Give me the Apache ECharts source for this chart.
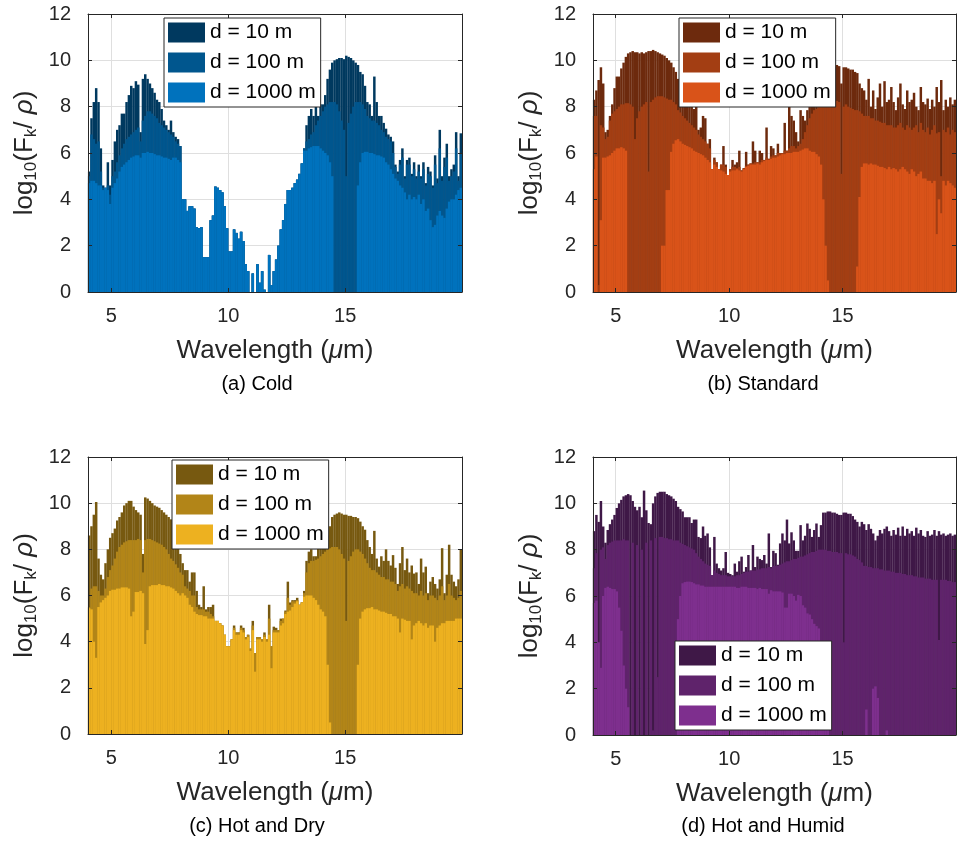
<!DOCTYPE html>
<html>
<head>
<meta charset="utf-8">
<title>Spectral flux by atmosphere</title>
<script src="https://cdn.jsdelivr.net/npm/echarts@6/dist/echarts.min.js"></script>
<style>html,body{margin:0;padding:0;background:#fff;}</style>
</head>
<body>
<div id="main" style="width:959px;height:844px;"></div>
<script type="text/javascript">
// bin centres, 0.1 um bins from 4 to 20 um
var wavelength = [];
for (var k = 0; k < 160; k++) wavelength.push(+(4.05 + 0.1 * k).toFixed(2));

var legendNames = ['d = 10 m', 'd = 100 m', 'd = 1000 m'];
var xTickLabels = [5, 10, 15];
var captions = ['(a) Cold', '(b) Standard', '(c) Hot and Dry', '(d) Hot and Humid'];

// log10(Fk / rho), one value per bin
var cold10 = [
  5.2, 7.5, 8.2, 8.8, 8.2, 6.2, 4.6, 4.5, 5.6, 4.6,
  5.7, 6.5, 7.0, 7.2, 7.7, 7.7, 8.2, 8.5, 8.9, 8.8,
  9.1, 8.95, 6.9, 9.2, 9.4, 9.2, 9.0, 8.8, 8.6, 8.3,
  8.2, 7.9, 7.4, 7.2, 7.0, 7.4, 6.9, 6.7, 6.6, 6.3,
  4.0, 4.0, 3.5, 3.7, 3.7, 3.6, 2.8, 2.75, 2.8, 1.5,
  1.5, 1.5, 3.1, 3.3, 4.55, 4.5, 4.4, 4.3, 3.7, 2.75,
  1.75, 1.75, 2.7, 2.55, 2.3, 2.6, 2.2, 1.2, 0.9, 0,
  0.8, 0, 1.2, 0.4, 0.9, 0.1, 0, 1.6, 0.3, 0.9,
  1.4, 2.0, 2.7, 3.1, 3.8, 4.4, 4.4, 4.5, 4.7, 4.85,
  5.1, 5.55, 6.2, 7.2, 7.6, 7.9, 7.6, 8.0, 7.6, 8.1,
  8.1, 8.5, 9.2, 9.6, 9.9, 10.0, 10.05, 10.1, 10.1, 10.05,
  10.2, 10.15, 10.1, 10.0, 9.9, 9.8, 9.5, 9.4, 8.9, 8.2,
  8.1, 7.6, 9.3, 8.2, 7.6, 7.6, 7.3, 7.05, 6.8, 6.7,
  6.5, 5.5, 5.2, 5.7, 6.2, 5.0, 5.7, 5.8, 5.1, 5.6,
  5.0, 5.5, 5.0, 5.6, 4.7, 5.4, 5.2, 4.6, 5.9, 4.9,
  7.0, 5.0, 5.8, 6.4, 5.0, 5.3, 5.5, 6.9, 5.0, 6.85
];
var cold100 = [
  5.0, 6.8, 6.6, 6.4, 6.5, 5.2, 4.5, 4.5, 4.6, 4.2,
  5.0, 5.2, 5.6, 5.9, 6.2, 6.4, 6.6, 6.7, 6.8, 6.9,
  7.0, 7.1, 6.5, 7.4, 7.6, 7.8, 7.8, 7.7, 7.6, 7.5,
  7.3, 7.2, 7.1, 7.0, 6.9, 6.8, 6.7, 6.5, 6.4, 6.3,
  4.0, 4.0, 3.5, 3.7, 3.7, 3.6, 2.8, 2.75, 2.8, 1.5,
  1.5, 1.5, 3.1, 3.3, 4.55, 4.5, 4.4, 4.3, 3.7, 2.75,
  1.75, 1.75, 2.7, 2.55, 2.3, 2.6, 2.2, 1.2, 0.9, 0,
  0.8, 0, 1.2, 0.4, 0.9, 0.1, 0, 1.6, 0.3, 0.9,
  1.4, 2.0, 2.7, 3.1, 3.8, 4.4, 4.4, 4.5, 4.7, 4.85,
  5.1, 5.55, 6.2, 6.5, 6.6, 6.8, 6.9, 7.2, 7.4, 7.6,
  7.8, 8.0, 8.1, 8.2, 8.2, 8.2, 8.1, 7.8, 7.4, 7.0,
  5.0, 7.3, 7.7, 8.0, 8.2, 8.2, 8.2, 8.1, 7.9, 7.6,
  7.5, 7.4, 7.4, 7.3, 7.2, 7.0, 6.9, 6.7, 6.6, 6.5,
  6.0, 5.4, 5.1, 5.5, 5.8, 4.9, 5.5, 5.5, 5.0, 5.3,
  4.9, 5.2, 4.9, 5.3, 4.6, 5.1, 5.0, 4.5, 5.5, 4.7,
  6.2, 4.8, 5.4, 5.8, 4.8, 5.0, 5.2, 6.2, 4.8, 6.0
];
var cold1000 = [
  4.7, 4.8, 4.8, 4.7, 4.6, 4.6, 4.4, 4.5, 4.4, 3.8,
  4.5, 4.7, 4.9, 5.2, 5.4, 5.5, 5.6, 5.7, 5.8, 5.85,
  5.9, 5.9, 5.8, 6.0, 6.0, 6.05, 6.0, 6.0, 5.95, 5.9,
  5.9, 5.85, 5.8, 5.8, 5.75, 5.7, 5.8, 5.8, 5.7, 5.6,
  4.0, 4.0, 3.5, 3.7, 3.7, 3.6, 2.8, 2.75, 2.8, 1.5,
  1.5, 1.5, 3.1, 3.3, 4.55, 4.5, 4.4, 4.3, 3.7, 2.75,
  1.75, 1.75, 2.7, 2.55, 2.3, 2.6, 2.2, 1.2, 0.9, 0,
  0.8, 0, 1.2, 0.4, 0.9, 0.1, 0, 1.6, 0.3, 0.9,
  1.4, 2.0, 2.7, 3.1, 3.8, 4.4, 4.4, 4.5, 4.7, 4.85,
  5.1, 5.55, 6.1, 6.1, 6.2, 6.25, 6.3, 6.3, 6.3, 6.2,
  6.1, 6.0, 5.9, 5.6, 5.0, 0, 0, 0, 0, 0,
  0, 0, 0, 0, 0, 4.6, 5.6, 6.0, 6.05, 6.05,
  6.0, 6.0, 5.95, 5.9, 5.9, 5.85, 5.8, 5.6, 5.5, 5.3,
  5.1, 4.9, 4.8, 4.6, 4.5, 4.3, 4.0, 4.2, 4.0, 4.1,
  4.0, 4.2, 3.8, 4.0, 3.5, 3.6, 3.1, 2.8, 2.9, 3.3,
  3.5, 3.3, 3.2, 3.6, 3.9, 4.0, 4.0, 4.2, 4.4, 4.5
];

var std10 = [
  8.3, 8.7, 9.15, 9.7, 9.0, 6.9, 7.0, 7.6, 8.1, 8.8,
  9.3, 9.3, 9.65, 9.9, 10.15, 10.3, 10.35, 10.4, 10.35, 10.35,
  10.3, 10.35, 10.3, 10.35, 10.4, 10.4, 10.45, 10.4, 10.35, 10.3,
  10.25, 10.2, 10.1, 10.0, 9.9, 9.7, 9.5, 9.2, 8.9, 8.6,
  8.2, 8.3, 8.0, 8.1, 7.9, 8.0, 7.0, 7.1, 7.6, 7.5,
  6.4, 6.6, 5.3, 5.8, 5.6, 5.3, 5.5, 6.3, 5.5, 5.05,
  5.3, 5.7, 5.5, 5.6, 6.1, 5.25, 5.35, 6.05, 5.5, 5.55,
  6.5, 6.1, 5.6, 6.1, 6.0, 5.7, 7.1, 5.75, 6.3, 6.2,
  5.9, 6.4, 6.0, 6.0, 7.3, 6.1, 8.0, 7.6, 7.4, 6.9,
  6.5, 7.85, 7.6, 7.4, 7.85, 8.0, 8.3, 8.6, 8.9, 9.2,
  9.4, 9.6, 9.7, 9.8, 9.8, 9.8, 9.75, 9.8, 9.75, 9.0,
  9.7, 9.7, 9.65, 9.6, 9.6, 9.5, 9.45, 9.0, 8.8, 8.7,
  8.3, 9.2, 8.0, 8.7, 7.9, 8.4, 9.0, 8.0, 9.1, 8.2,
  8.3, 8.85, 8.2, 7.85, 8.4, 9.0, 8.1, 7.9, 8.7, 8.2,
  8.3, 8.6, 8.0, 7.85, 8.85, 8.2, 8.1, 8.35, 7.9, 8.3,
  8.0, 8.85, 8.2, 9.15, 7.85, 8.3, 8.0, 8.4, 8.1, 8.3
];
var std100 = [
  7.6, 7.6, 0.3, 7.2, 7.1, 6.6, 6.7, 7.4, 7.7, 7.8,
  7.9, 8.0, 8.1, 8.1, 8.15, 8.15, 8.1, 8.0, 6.6, 7.5,
  7.8, 8.0, 8.1, 8.2, 5.2, 8.2, 8.3, 8.4, 8.45, 8.45,
  8.45, 8.4, 8.35, 8.3, 8.3, 8.2, 8.1, 7.85, 7.75, 7.6,
  7.5, 7.4, 7.3, 7.2, 7.1, 7.0, 6.8, 6.7, 6.6, 6.5,
  6.4, 6.2, 5.3, 5.7, 5.6, 5.3, 5.5, 5.5, 5.4, 5.05,
  5.3, 5.4, 5.4, 5.35, 5.4, 5.25, 5.35, 5.45, 5.5, 5.55,
  5.55, 5.6, 5.6, 5.6, 5.7, 5.7, 5.8, 5.75, 5.85, 5.9,
  5.9, 6.0, 6.0, 6.0, 6.1, 6.1, 6.2, 6.3, 6.3, 6.2,
  6.3, 6.4, 6.6, 6.9, 7.2, 7.5, 7.7, 7.85, 7.9, 8.0,
  8.1, 8.2, 8.3, 8.3, 8.3, 8.3, 8.3, 8.25, 8.2, 5.1,
  8.0, 8.1, 8.0, 7.95, 7.9, 7.85, 7.85, 7.8, 7.7, 7.6,
  7.6, 7.6, 7.5, 7.5, 7.4, 7.4, 7.35, 7.3, 7.3, 7.2,
  7.2, 7.2, 7.1, 7.1, 7.2, 7.3, 7.1, 7.0, 7.2, 7.1,
  7.0, 7.1, 7.2, 6.9, 7.3, 7.0, 6.9, 7.1, 6.8, 7.0,
  7.2, 6.85, 6.9, 5.0, 7.0, 6.9, 7.1, 6.8, 7.0, 6.9
];
var std1000 = [
  5.3, 5.85, 0, 3.1, 5.8, 5.8, 5.85, 5.9, 6.0, 6.1,
  6.2, 6.2, 6.25, 6.2, 6.1, 0, 0, 0, 0, 0,
  0, 0, 0, 0, 0, 0, 0, 0, 0, 0,
  2.0, 2.0, 4.4, 4.4, 6.05, 6.4, 6.55, 6.6, 6.5, 6.4,
  6.35, 6.3, 6.25, 6.2, 6.1, 6.05, 6.0, 5.95, 5.9, 5.8,
  5.7, 5.6, 5.3, 5.5, 5.4, 5.3, 5.25, 5.2, 5.1, 5.05,
  5.2, 5.25, 5.25, 5.3, 5.25, 5.2, 5.3, 5.4, 5.45, 5.5,
  5.5, 5.5, 5.55, 5.5, 5.6, 5.65, 5.7, 5.7, 5.75, 5.8,
  5.8, 5.85, 5.9, 5.95, 5.95, 6.0, 6.0, 6.0, 6.05, 6.05,
  6.05, 6.1, 6.15, 6.2, 6.2, 6.1, 6.05, 6.05, 5.95, 5.85,
  5.5, 4.0, 2.0, 0.5, 0, 0, 0, 0, 0, 0,
  0, 0, 0, 0, 0, 0, 1.1, 4.1, 5.4, 5.55,
  5.55, 5.5, 5.55, 5.5, 5.5, 5.45, 5.4, 5.4, 5.35, 5.3,
  5.4, 5.3, 5.35, 5.3, 5.2, 5.3, 5.4, 5.3, 5.2, 5.1,
  5.3, 5.2, 5.0, 5.1, 5.2, 4.9, 4.9, 4.8, 4.8, 4.7,
  4.8, 2.5, 4.0, 3.4, 4.8, 4.6, 4.8, 4.7, 4.6, 4.5
];

var dry10 = [
  8.6, 9.0, 9.5, 10.05, 7.6, 6.9, 6.7, 7.4, 8.0, 8.5,
  8.7, 8.9, 9.25, 9.4, 9.6, 9.9, 10.0, 10.1, 10.1, 9.85,
  9.7, 9.6, 9.5, 7.8, 10.25, 10.2, 10.1, 10.0, 9.9, 9.85,
  9.8, 9.7, 9.6, 9.5, 9.4, 9.3, 9.0, 8.7, 8.4, 7.8,
  7.4, 7.1, 7.1, 6.6, 7.0, 7.0, 6.2, 5.6, 5.5, 6.4,
  5.4, 5.5, 5.5, 5.6, 4.9, 4.9, 4.8, 4.7, 4.3, 3.8,
  3.8, 4.1, 4.7, 4.4, 4.4, 4.7, 4.6, 4.2, 4.3, 3.7,
  4.9, 3.5, 4.2, 4.2, 4.1, 4.4, 4.1, 5.6, 3.8, 4.65,
  4.6, 4.5, 5.0, 5.0, 5.35, 6.6, 5.7, 5.8, 5.8, 5.9,
  5.6, 5.7, 6.2, 7.5, 7.9, 8.0, 7.7, 7.7, 8.1, 8.3,
  8.4, 8.5, 8.6, 9.0, 9.4, 9.5, 9.55, 9.6, 9.55, 9.5,
  9.5, 9.45, 9.45, 9.4, 9.4, 9.35, 9.2, 9.0, 8.85, 8.4,
  8.1, 7.8, 8.8, 7.6, 7.25, 7.7, 7.5, 8.0, 7.5, 7.3,
  7.75, 7.2, 6.5, 7.4, 8.1, 7.1, 7.6, 7.0, 7.3, 6.95,
  7.0, 6.5, 7.6, 7.0, 7.25, 6.1, 6.6, 6.8, 6.5, 6.3,
  6.7, 8.05, 6.1, 6.9, 8.2, 6.9, 6.6, 6.4, 6.7, 8.0
];
var dry100 = [
  5.5, 6.3, 6.4, 6.4, 6.2, 6.0, 6.0, 6.3, 6.8, 7.1,
  7.3, 7.6, 7.9, 8.1, 8.2, 8.3, 8.35, 8.4, 8.4, 8.4,
  8.4, 8.45, 8.4, 7.0, 8.4, 8.45, 8.45, 8.4, 8.35, 8.3,
  8.25, 8.2, 8.1, 8.0, 7.8, 7.6, 7.5, 7.35, 7.2, 7.0,
  6.9, 6.4, 6.3, 6.2, 6.0, 6.0, 5.5, 5.4, 5.4, 5.4,
  5.3, 5.3, 5.2, 5.1, 4.9, 4.9, 4.8, 4.7, 4.3, 3.8,
  3.8, 4.1, 4.6, 4.4, 4.4, 4.6, 4.5, 4.2, 4.3, 3.7,
  4.7, 3.5, 4.2, 4.2, 4.1, 4.3, 4.1, 5.0, 3.8, 4.5,
  4.5, 4.5, 4.9, 5.0, 5.3, 5.9, 5.6, 5.75, 5.75, 5.8,
  5.6, 5.7, 6.1, 7.0, 7.4, 7.5, 7.5, 7.55, 7.6, 7.7,
  7.8, 7.9, 8.0, 8.05, 8.1, 8.1, 8.1, 8.0, 7.8, 7.6,
  4.9, 7.5, 7.7, 7.9, 8.0, 8.0, 7.9, 7.8, 7.6, 7.4,
  7.2, 7.1, 7.1, 7.0, 6.9, 6.8, 6.8, 6.7, 6.7, 6.6,
  6.6, 6.5, 6.2, 6.4, 6.5, 6.3, 6.4, 6.3, 6.2, 6.1,
  6.1, 6.0, 6.2, 6.0, 6.1, 5.8, 6.0, 6.0, 5.9, 5.8,
  6.0, 6.4, 5.8, 6.0, 6.5, 6.0, 5.9, 5.8, 5.9, 6.2
];
var dry1000 = [
  5.45, 5.4, 4.0, 3.3, 5.5, 5.7, 5.8, 5.9, 6.0, 6.2,
  6.25, 6.25, 6.3, 6.3, 6.35, 6.35, 6.35, 6.3, 5.1, 5.3,
  6.15, 6.15, 6.2, 6.1, 3.9, 4.5, 6.4, 6.45, 6.45, 6.45,
  6.5, 6.45, 6.45, 6.4, 6.4, 6.35, 6.3, 6.2, 6.1, 6.0,
  6.1, 6.0, 5.9, 5.6, 5.5, 5.3, 5.2, 5.15, 5.15, 5.1,
  5.1, 5.0, 5.0, 5.0, 4.9, 4.9, 4.8, 4.7, 4.3, 3.8,
  3.8, 4.1, 4.5, 4.3, 4.3, 4.5, 4.4, 4.1, 4.2, 3.6,
  4.5, 2.7, 4.1, 4.1, 4.0, 4.2, 4.0, 4.3, 2.85, 4.4,
  4.4, 4.4, 4.7, 4.8, 5.2, 5.3, 5.35, 5.5, 5.65, 5.75,
  5.6, 5.7, 5.95, 6.0, 6.0, 6.0, 5.9, 5.8, 5.6, 5.4,
  5.3, 5.1, 3.0, 0.5, 0, 0, 0, 0, 0, 0,
  0, 0, 0, 0, 0, 3.0, 5.0, 5.3, 5.4, 5.45,
  5.45, 5.5, 5.4, 5.4, 5.35, 5.3, 5.3, 5.25, 5.2, 5.2,
  5.1, 5.1, 5.0, 4.4, 5.0, 4.95, 4.9, 4.9, 4.1, 4.7,
  4.8, 4.9, 4.8, 4.7, 4.8, 4.6, 4.7, 4.7, 4.0, 4.6,
  4.7, 4.8, 4.8, 4.9, 4.9, 4.9, 4.9, 5.0, 5.0, 5.0
];

var humid10 = [
  8.8, 9.5, 9.2, 10.1, 9.0, 8.3, 8.85, 9.1, 9.3, 9.5,
  9.8, 10.0, 10.15, 10.3, 10.35, 10.4, 10.35, 10.1, 9.85, 9.7,
  9.85, 9.4, 10.55, 9.7, 9.15, 9.1, 10.0, 10.3, 10.45, 10.5,
  10.5, 10.5, 10.4, 10.35, 10.3, 10.2, 10.1, 9.85, 9.75, 9.65,
  9.4, 9.4, 9.4, 9.15, 9.3, 9.3, 8.55, 8.5, 9.0, 8.6,
  8.7, 8.1, 6.9, 8.55, 7.4, 7.2, 7.1, 7.2, 7.9, 7.0,
  6.95, 6.9, 7.4, 7.05, 7.5, 7.7, 7.05, 7.25, 7.77, 7.1,
  8.2, 7.25, 7.7, 7.6, 7.55, 7.77, 7.4, 8.7, 7.25, 7.95,
  7.85, 7.35, 8.27, 8.7, 8.4, 9.3, 8.27, 8.75, 8.4, 7.95,
  7.95, 9.06, 8.4, 8.6, 9.13, 8.9, 8.55, 8.85, 9.13, 8.55,
  9.06, 9.6, 9.6, 9.65, 9.65, 9.6, 9.6, 9.55, 9.5, 9.5,
  9.6, 9.6, 9.55, 9.55, 9.45, 9.3, 9.2, 9.0, 9.2, 9.1,
  8.85, 9.1, 8.9, 8.7, 8.4, 8.6, 8.85, 8.7, 8.9, 9.0,
  8.8, 8.6, 8.85, 8.65, 8.95, 8.6, 9.0, 8.6, 8.9, 8.7,
  8.8, 8.6, 8.95, 8.7, 8.85, 8.6, 8.55, 8.8, 8.6, 8.65,
  8.85, 8.6, 8.8, 8.65, 8.7, 8.6, 8.65, 8.7, 8.6, 8.65
];
var humid100 = [
  7.2, 7.85, 4.0, 8.0, 8.1, 7.6, 8.2, 8.3, 8.35, 8.4,
  8.4, 8.4, 8.4, 8.45, 8.4, 8.4, 0, 8.3, 0, 8.2,
  0, 8.0, 0, 8.3, 0, 8.4, 0.2, 8.5, 2.5, 8.55,
  8.55, 8.5, 8.5, 8.45, 8.45, 8.4, 8.4, 8.4, 8.3, 8.25,
  8.2, 8.15, 8.1, 8.05, 8.0, 7.85, 7.7, 7.6, 7.5, 7.4,
  7.35, 7.3, 6.9, 7.1, 7.0, 6.95, 6.9, 6.9, 6.9, 6.85,
  6.85, 6.85, 6.85, 6.9, 6.9, 6.95, 7.0, 7.05, 7.05, 7.1,
  7.1, 7.1, 7.15, 7.15, 7.2, 7.2, 7.2, 7.25, 7.2, 7.3,
  7.3, 7.3, 7.35, 7.4, 7.45, 7.5, 7.5, 7.55, 7.6, 7.6,
  7.65, 7.7, 7.7, 7.75, 7.8, 7.85, 7.9, 7.9, 7.95, 8.0,
  8.0, 8.0, 8.0, 7.95, 7.95, 7.9, 7.9, 7.9, 7.85, 7.85,
  4.0, 7.85, 7.8, 7.8, 7.75, 7.7, 7.6, 7.55, 7.45, 7.3,
  7.3, 7.25, 7.25, 7.2, 7.2, 7.2, 7.15, 7.15, 7.1, 7.1,
  7.1, 7.05, 7.05, 7.0, 7.0, 7.0, 6.95, 6.95, 6.9, 6.9,
  6.9, 6.85, 6.85, 6.8, 6.8, 6.8, 6.75, 6.75, 6.75, 6.7,
  6.7, 6.7, 4.1, 6.7, 6.7, 6.7, 6.65, 6.65, 6.6, 6.6
];
var humid1000 = [
  5.7, 5.8, 4.0, 2.9, 6.0, 6.35, 6.4, 6.35, 6.3, 6.3,
  6.2, 5.5, 4.5, 3.0, 2.0, 1.2, 0, 0, 0, 0,
  0, 0, 0, 0, 0, 0, 0, 0, 0, 0,
  0, 0, 0, 0, 0, 0, 0, 5.0, 6.0, 6.55,
  6.6, 6.62, 6.62, 6.6, 6.55, 6.5, 6.5, 6.45, 6.45, 6.4,
  6.4, 6.4, 6.4, 6.4, 6.4, 6.4, 6.4, 6.4, 6.4, 6.4,
  6.4, 6.4, 6.4, 6.35, 6.35, 6.4, 6.4, 6.4, 6.35, 6.35,
  6.35, 6.35, 6.3, 6.35, 6.3, 6.3, 6.3, 6.1, 6.25, 6.2,
  6.2, 6.2, 6.2, 6.15, 5.5, 5.5, 6.1, 6.1, 6.0, 5.8,
  6.05, 6.0, 5.6, 5.5, 5.25, 5.2, 5.0, 4.8, 4.7, 4.6,
  3.9, 3.6, 2.5, 1.5, 0, 0, 0, 0, 0, 0,
  0, 0, 0, 0, 0, 0, 0, 0, 0, 0,
  1.1, 0, 0, 2.0, 2.1, 1.6, 0, 0, 0, 0.2,
  0, 0, 0, 0, 0, 0, 0, 0, 0, 0,
  0, 0, 0, 0, 0, 0, 0, 0, 0, 0,
  0, 0, 0, 0, 0, 0, 0, 0, 0, 0
];

var FONT = '"Liberation Sans", Arial, Helvetica, sans-serif';
var AXIS_COLOR = '#262626';
var GRID_COLOR = '#dfdfdf';
var CLEAR = 'rgba(0,0,0,0)';

var panels = [
  { values: [cold10, cold100, cold1000], colors: ['#00395F', '#00568E', '#0072BD'],
    grid: { left: 88, top: 14, width: 374, height: 278 }, legend: { left: 164, top: 18 }, caption: [257, 384] },
  { values: [std10, std100, std1000], colors: ['#6D2A0D', '#A33E13', '#D95319'],
    grid: { left: 593, top: 14, width: 373, height: 278 }, legend: { left: 679, top: 18 }, caption: [763, 384] },
  { values: [dry10, dry100, dry1000], colors: ['#775910', '#B28518', '#EDB120'],
    grid: { left: 88, top: 457, width: 374, height: 277 }, legend: { left: 172, top: 460 }, caption: [257, 826] },
  { values: [humid10, humid100, humid1000], colors: ['#3F1847', '#5F236B', '#7E2F8E'],
    grid: { left: 593, top: 457, width: 373, height: 278 }, legend: { left: 675, top: 641 }, caption: [763, 826] }
];

var grids = [], xAxes = [], yAxes = [], legends = [], series = [], graphics = [];

panels.forEach(function (p, pi) {
  // zero-width marks keep legend names apart between panels
  var tag = new Array(pi + 1).join('\u200b');
  grids.push({ left: p.grid.left, top: p.grid.top, width: p.grid.width, height: p.grid.height });

  // main x axis: grid lines + labels (lines drawn only at 5, 10, 15, 20)
  xAxes.push({
    gridIndex: pi, type: 'value', min: 4, max: 20, interval: 1, position: 'bottom',
    axisLine: { show: false }, axisTick: { show: false },
    axisLabel: {
      margin: 14, fontSize: 20, color: AXIS_COLOR, fontFamily: FONT,
      formatter: function (v) { return xTickLabels.indexOf(v) >= 0 ? String(v) : ''; }
    },
    splitLine: { show: true, showMinLine: true, showMaxLine: true,
      lineStyle: { width: 1, color: [CLEAR, GRID_COLOR, CLEAR, CLEAR, CLEAR] } },
    name: '{n|Wavelength (}{i|\u03bc}{n|m)}', nameLocation: 'middle', nameGap: 46,
    nameTextStyle: { rich: {
      n: { fontSize: 26, color: AXIS_COLOR, fontFamily: FONT },
      i: { fontSize: 26, color: AXIS_COLOR, fontFamily: FONT, fontStyle: 'italic' } } }
  });
  // box edges drawn over the bars
  ['bottom', 'top'].forEach(function (pos) {
    xAxes.push({
      gridIndex: pi, type: 'value', min: 4, max: 20, position: pos, z: 5,
      axisLine: { show: true, onZero: false, lineStyle: { color: AXIS_COLOR, width: 1 } },
      axisTick: { show: true, inside: true, length: 4, customValues: xTickLabels,
        lineStyle: { color: AXIS_COLOR } },
      axisLabel: { show: false }, splitLine: { show: false }
    });
  });

  yAxes.push({
    gridIndex: pi, type: 'value', min: 0, max: 12, interval: 2, position: 'left',
    axisLine: { show: false }, axisTick: { show: false },
    axisLabel: { margin: 17, fontSize: 20, color: AXIS_COLOR, fontFamily: FONT },
    splitLine: { show: true, lineStyle: { color: GRID_COLOR, width: 1 } },
    name: '{n|log}{s|10}{n|(F}{s|k}{n|/ }{i|\u03c1}{n|)}', nameLocation: 'middle', nameGap: 48, nameRotate: 90,
    nameTextStyle: { rich: {
      n: { fontSize: 26, color: AXIS_COLOR, fontFamily: FONT },
      s: { fontSize: 17, color: AXIS_COLOR, fontFamily: FONT, padding: [13, 0, 0, 0] },
      i: { fontSize: 26, color: AXIS_COLOR, fontFamily: FONT, fontStyle: 'italic' } } }
  });
  ['left', 'right'].forEach(function (pos) {
    yAxes.push({
      gridIndex: pi, type: 'value', min: 0, max: 12, interval: 2, position: pos, z: 5,
      axisLine: { show: true, onZero: false, lineStyle: { color: AXIS_COLOR, width: 1 } },
      axisTick: { show: true, inside: true, length: 4, lineStyle: { color: AXIS_COLOR } },
      axisLabel: { show: false }, splitLine: { show: false }
    });
  });

  var names = legendNames.map(function (n) { return n + tag; });
  legends.push({
    orient: 'vertical', left: p.legend.left, top: p.legend.top, data: names,
    icon: 'rect', itemWidth: 37, itemHeight: 20, itemGap: 9, padding: [4, 5, 4, 4],
    backgroundColor: '#fff', borderColor: AXIS_COLOR, borderWidth: 1, borderRadius: 0,
    selectedMode: false, z: 10,
    textStyle: { fontSize: 21, color: '#000', fontFamily: FONT }
  });

  var barW = p.grid.width / 160 + 0.15;
  p.values.forEach(function (vals, si) {
    series.push({
      type: 'bar', name: names[si], xAxisIndex: pi * 3, yAxisIndex: pi * 3,
      barWidth: barW, barGap: '-100%', z: 2, silent: true,
      itemStyle: { color: p.colors[si] },
      data: wavelength.map(function (w, i) { return [w, vals[i]]; })
    });
  });

  graphics.push({
    type: 'text', x: p.caption[0], y: p.caption[1],
    style: { text: captions[pi], fontSize: 20, fontFamily: FONT, fill: '#000',
      align: 'center', verticalAlign: 'middle' }
  });
});

var myChart = echarts.init(document.getElementById('main'));
myChart.setOption({
  backgroundColor: '#ffffff',
  animation: false,
  grid: grids,
  xAxis: xAxes,
  yAxis: yAxes,
  legend: legends,
  series: series,
  graphic: graphics
});
</script>
</body>
</html>
